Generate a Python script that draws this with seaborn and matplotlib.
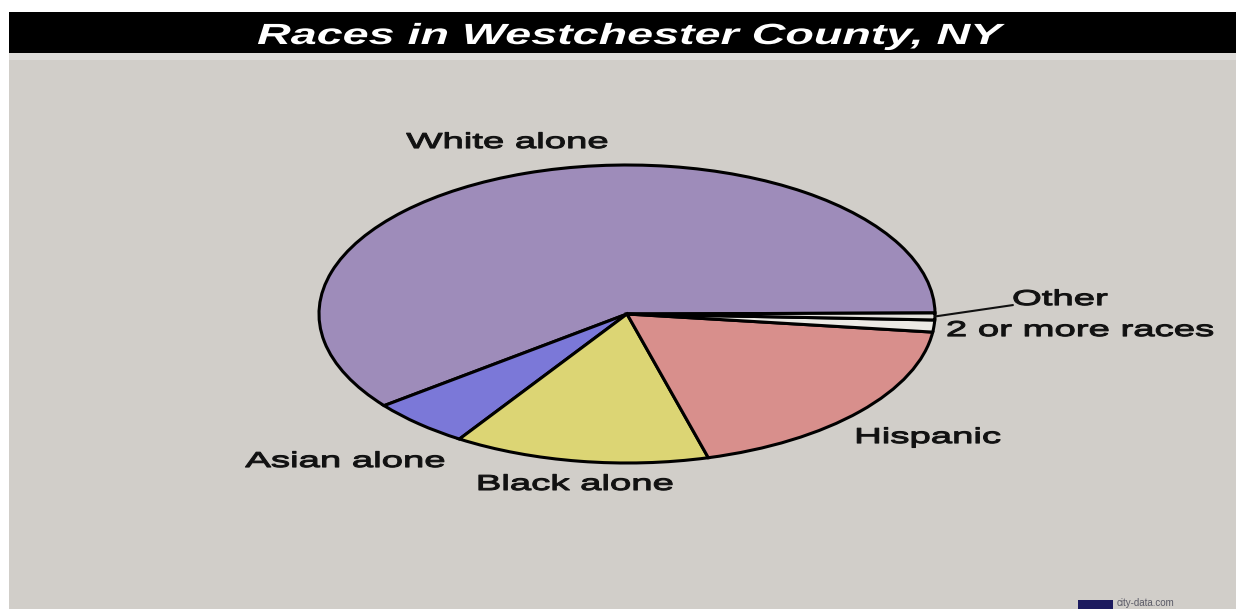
import matplotlib
matplotlib.use('Agg')
import matplotlib.pyplot as plt
import matplotlib.patheffects as pe
from matplotlib.patches import Rectangle
from matplotlib.transforms import Affine2D
import numpy as np
import seaborn as sns

# --- data ---
races = ['White alone', 'Asian alone', 'Black alone', 'Hispanic', '2 or more races', 'Other']
shares = [60.4, 5.3, 13.4, 18.8, 1.3, 0.75]
slice_colors = ['#9e8cba', '#7b78d8', '#dcd574', '#d88f8c', '#eceae5', '#e2e0db']
title = 'Races in Westchester County, NY'

# label anchors (pie units, text baseline, centred)
label_x = [-0.39, -0.916, -0.169, 0.977, 1.471, 1.406]
label_y = [1.114, -1.027, -1.181, -0.866, -0.148, 0.06]

W, H = 1236, 609
BG = '#d1cec9'


# the source image is stretched sideways, so stretch the glyphs the same way
# (optional thin outline to mimic the heavier, blurry lettering)
class Stretch(pe.AbstractPathEffect):
    def __init__(self, sx, stroke=0.0):
        super().__init__()
        self.sx = sx
        self.stroke = stroke

    def draw_path(self, renderer, gc, tpath, affine, rgbFace=None):
        bb = tpath.get_extents(affine)
        cx = (bb.x0 + bb.x1) / 2
        affine = affine + Affine2D().translate(-cx, 0).scale(self.sx, 1).translate(cx, 0)
        if self.stroke and rgbFace is not None:
            gc0 = renderer.new_gc()
            gc0.copy_properties(gc)
            gc0.set_linewidth(self.stroke)
            gc0.set_foreground(rgbFace)
            renderer.draw_path(gc0, tpath, affine, rgbFace)
            gc0.restore()
        else:
            renderer.draw_path(gc, tpath, affine, rgbFace)


sns.set_theme(style='white')
plt.rcParams['font.family'] = ['Liberation Sans', 'DejaVu Sans']

fig = plt.figure(figsize=(W / 100, H / 100), dpi=100)
fig.patch.set_facecolor('white')

# grey canvas + black title bar (kept behind the pie axes)
fig.patches.append(Rectangle((9 / W, 0), 1, (H - 53) / H, transform=fig.transFigure,
                             facecolor=BG, edgecolor='none', zorder=-3))
fig.patches.append(Rectangle((9 / W, (H - 60) / H), 1, 7 / H, transform=fig.transFigure,
                             facecolor='#dddbd8', edgecolor='none', zorder=-2))
fig.patches.append(Rectangle((9 / W, (H - 53) / H), 1, 41 / H, transform=fig.transFigure,
                             facecolor='black', edgecolor='none', zorder=-1))

fig.text(630 / W, (H - 44) / H, title, color='white', fontsize=21, fontweight='bold',
         fontstyle='italic', ha='center', va='baseline', path_effects=[Stretch(1.6)])

# pie squashed to an ellipse
ax = fig.add_axes([319 / W, 146 / H, 616 / W, 298 / H])
wedges, _ = ax.pie(shares, colors=slice_colors, startangle=0.4, counterclock=True,
                   wedgeprops=dict(edgecolor='black', linewidth=2.2))
ax.set_aspect('auto')
ax.set_xlim(-1, 1)
ax.set_ylim(-1, 1)
ax.axis('off')

for name, x, y in zip(races, label_x, label_y):
    ax.text(x, y, name, fontsize=15.5, color='#111111', ha='center', va='baseline',
            path_effects=[Stretch(1.78, stroke=0.8)], clip_on=False)

# leader line for the thin "Other" slice
w = wedges[races.index('Other')]
mid = np.deg2rad((w.theta1 + w.theta2) / 2)
ax.annotate('', xy=(np.cos(mid), np.sin(mid)), xytext=(1.253, 0.06),
            arrowprops=dict(arrowstyle='-', color='#111111', lw=1.5,
                            shrinkA=0, shrinkB=0), annotation_clip=False)

# city-data logo in the bottom corner
fig.patches.append(Rectangle((1078 / W, 0), 35 / W, 9 / H, transform=fig.transFigure,
                             facecolor='#1c1a5e', edgecolor='none', zorder=2))
fig.text(1117 / W, 1 / H, 'city-data.com', fontsize=7, color='#5a5a66', ha='left', va='bottom')

fig.savefig('out.png', dpi=100, facecolor=fig.get_facecolor())
